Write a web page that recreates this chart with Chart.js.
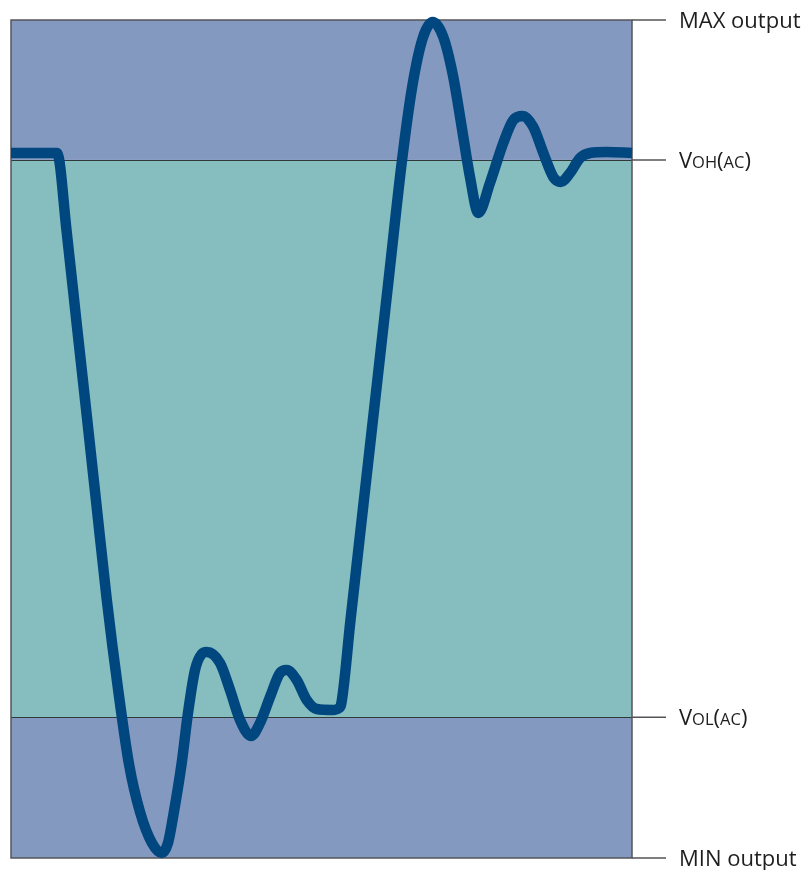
<!DOCTYPE html>
<html>
<head>
<meta charset="utf-8">
<script src="https://cdn.jsdelivr.net/npm/chart.js@4.4.1/dist/chart.umd.min.js"></script>
<style>
  body { margin: 0; background: #fff; }
  #wrap { width: 806px; height: 870px; }
</style>
</head>
<body>
<div id="wrap"><canvas id="myChart"></canvas></div>
<script>
// signal trace, x in % of time window, y in % between MIN and MAX output
const timeValues = [0, 7.41, 8.97, 10.58, 12.19, 13.80, 15.41, 17.28, 19.0, 20.77, 22.70, 24.27,
    25.28, 26.09, 27.49, 28.50, 29.63, 30.71, 31.51, 33.66, 35.27, 36.88, 38.65, 40.10, 41.71, 43.32, 44.40,
    46.01, 47.62, 49.23, 51.85, 52.82, 53.14, 54.67, 56.83, 59.00, 60.98, 62.93, 64.57, 66.31,
    67.91, 69.61, 71.22, 72.58, 73.91, 75.25, 77.13, 79.27, 80.89, 82.40, 84.11, 85.72, 87.33, 88.52,
    90.02, 91.63, 93.24, 95.93, 100];
const signalValues = [84.13, 84.13, 74.70, 63.72, 52.86, 41.89, 30.91, 19.93, 11.2, 5.5, 1.79, 0.60,
    1.79, 4.89, 11.34, 17.30, 22.43, 24.34, 24.58, 23.27, 20.05, 16.47, 14.56, 16.11, 19.21, 22.08, 22.43,
    21.24, 18.85, 17.78, 17.66, 17.90, 18.26, 28.40, 42.72, 57.04, 70.17, 83.05, 91.88, 97.85,
    99.76, 97.97, 93.20, 87.23, 81.26, 76.97, 80.55, 85.32, 88.07, 88.54, 87.23, 84.13, 81.26, 80.67,
    81.74, 83.53, 84.13, 84.25, 84.13];

// levels, bottom to top
const levelValues = [0, 16.8, 83.3, 100];
const levelLabels = [
    [['MIN output', 'big']],
    [['V', 'big'], ['OL', 'small'], ['(', 'big'], ['AC', 'small'], [')', 'big']],
    [['V', 'big'], ['OH', 'small'], ['(', 'big'], ['AC', 'small'], [')', 'big']],
    [['MAX output', 'big']]
];
const bandColors = ['#8399bf', '#86bdbe', '#8399bf'];

let points = [];
for (let i = 0; i < timeValues.length; i++) {
    points.push({ x: timeValues[i], y: signalValues[i] });
}

// draws the bands, the level lines and the labels on the right
const levelsPlugin = {
    id: 'levels',
    beforeDatasetsDraw: (chart) => {
        const c = chart.ctx;
        const area = chart.chartArea;
        const ys = chart.scales.y;
        c.save();
        for (let i = 0; i < bandColors.length; i++) {
            let top = ys.getPixelForValue(levelValues[i + 1]);
            let bottom = ys.getPixelForValue(levelValues[i]);
            c.fillStyle = bandColors[i];
            c.fillRect(area.left, top, area.right - area.left, bottom - top);
        }
        // inner level lines
        c.strokeStyle = '#2f3a3a';
        c.lineWidth = 1.2;
        for (let i = 1; i < levelValues.length - 1; i++) {
            let y = Math.round(ys.getPixelForValue(levelValues[i])) + 0.5;
            c.beginPath();
            c.moveTo(area.left, y);
            c.lineTo(area.right, y);
            c.stroke();
        }
        // box
        c.strokeStyle = '#555459';
        c.lineWidth = 1.5;
        c.strokeRect(area.left, area.top, area.right - area.left, area.bottom - area.top);
        // ticks and labels
        for (let i = 0; i < levelValues.length; i++) {
            let y = ys.getPixelForValue(levelValues[i]);
            c.strokeStyle = '#555459';
            c.lineWidth = 1.5;
            c.beginPath();
            c.moveTo(area.right, y);
            c.lineTo(area.right + 34, y);
            c.stroke();
            let x = area.right + 47;
            c.fillStyle = '#1e1e1e';
            c.textBaseline = 'alphabetic';
            let parts = levelLabels[i];
            for (let p = 0; p < parts.length; p++) {
                c.font = parts[p][1] == 'big' ? '22px "Open Sans"' : '16.5px "Open Sans"';
                c.fillText(parts[p][0], x, y + 8);
                x += c.measureText(parts[p][0]).width;
            }
        }
        c.restore();
    }
};

const ctx = document.getElementById('myChart');
const myChart = new Chart(ctx, {
    type: 'line',
    data: {
        datasets: [{
            data: points,
            borderColor: '#00467f',
            borderWidth: 10.5,
            pointRadius: 0,
            cubicInterpolationMode: 'monotone',
            fill: false,
            clip: false
        }]
    },
    options: {
        responsive: true,
        maintainAspectRatio: false,
        animation: false,
        layout: { padding: { left: 11, top: 20, right: 174, bottom: 12 } },
        plugins: { legend: { display: false }, tooltip: { enabled: false } },
        scales: {
            x: { type: 'linear', min: 0, max: 100, display: false },
            y: { min: 0, max: 100, display: false }
        }
    },
    plugins: [levelsPlugin]
});
</script>
</body>
</html>
